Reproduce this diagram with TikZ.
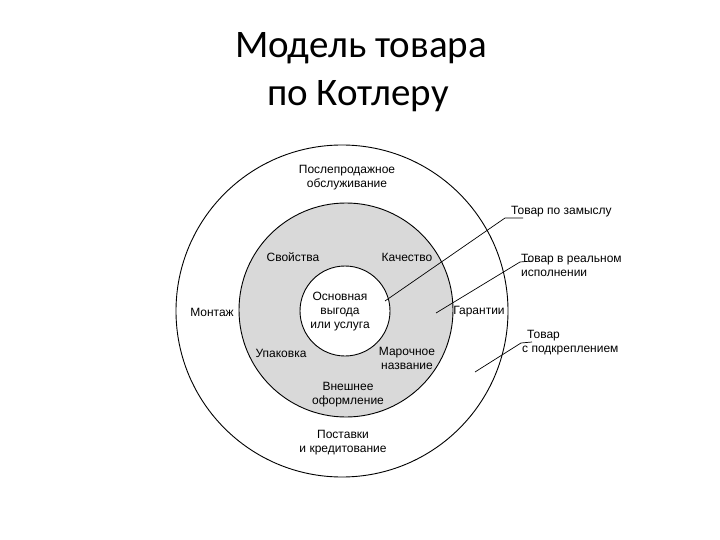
\documentclass[tikz,border=0pt]{standalone}
\usepackage{fontspec}
\setmainfont{Liberation Sans}
\newfontfamily\titlefont{Carlito}
\begin{document}
\begin{tikzpicture}[x=1pt,y=-1pt,
  ring/.style={draw=black,line width=0.9pt},
  lbl/.style={font=\fontsize{12}{14}\selectfont,align=center,inner sep=0pt},
  side/.style={font=\fontsize{12}{14}\selectfont,align=left,inner sep=0pt,anchor=west},
  leader/.style={draw=black,line width=0.7pt},
  ttl/.style={font=\titlefont\fontsize{39}{45}\selectfont,anchor=base,inner sep=0pt}]
\useasboundingbox (0,0) rectangle (720,540);
% title
\node[ttl] (t1) at (361,58) {Модель товара};
\node[ttl] (t2) at (358,106) {по Котлеру};
% circles
\draw[ring] (342,311) circle[radius=166];
\draw[ring,fill=black!15] (346,310) circle[radius=107];
\draw[ring,fill=white] (345,311) circle[radius=45];
% texts
\node[lbl] (post) at (347,178) {Послепродажное\\обслуживание};
\node[lbl] (svo) at (293,257) {Свойства};
\node[lbl] (kach) at (407,257) {Качество};
\node[lbl] (core) at (340,312) {Основная\\выгода\\или услуга};
\node[lbl] (mont) at (212,312) {Монтаж};
\node[lbl] (gar) at (479,312) {Гарантии};
\node[lbl] (upak) at (281,353) {Упаковка};
\node[lbl] (marka) at (407,358) {Марочное\\название};
\node[lbl] (vnesh) at (348,395) {Внешнее\\оформление};
\node[lbl] (postav) at (343,443) {Поставки\\и кредитование};
% side labels
\node[side] (zam) at (511,212) {Товар по замыслу};
\node[side] (real) at (521,265) {Товар в реальном\\исполнении};
\node[side] (podk) at (522,343) {\hspace*{5pt}Товар\\с подкреплением};
% leader lines
\coordinate (a0) at (385,301);
\coordinate (a1) at (505,218);
\coordinate (b0) at (436,313);
\coordinate (b1) at (520,262);
\coordinate (c0) at (475,372);
\coordinate (c1) at (521,343);
\draw[leader] (a0) -- (a1) -- ++(18,0);
\draw[leader] (b0) -- (b1) -- ++(12,-1);
\draw[leader] (c0) -- (c1) -- ++(11,-1);
\end{tikzpicture}
\end{document}
